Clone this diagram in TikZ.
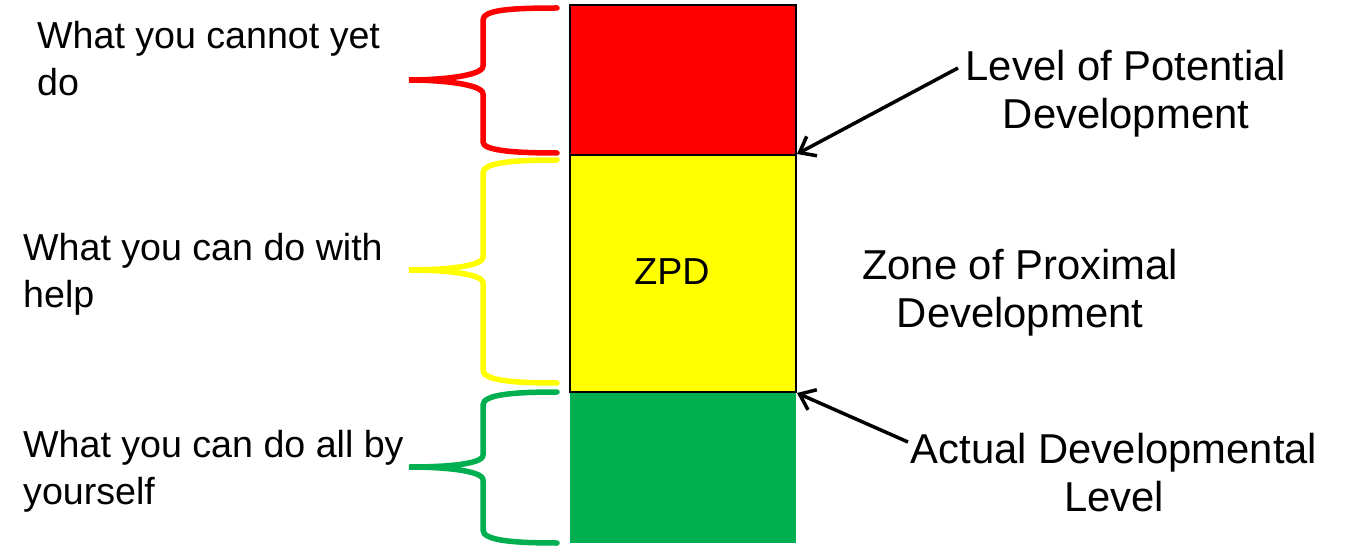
\documentclass[tikz,border=0pt]{standalone}
\usepackage{fontspec}
\setmainfont{Liberation Sans}
\usetikzlibrary{arrows.meta}
\definecolor{zred}{HTML}{FF0000}
\definecolor{zyellow}{HTML}{FFFF00}
\definecolor{zgreen}{HTML}{00B050}
\tikzset{
  lbl/.style={font=\fontsize{37.6}{47}\selectfont, inner sep=0pt, align=left, anchor=west},
  clbl/.style={font=\fontsize{37.6}{48}\selectfont, inner sep=0pt, align=center},
  rlbl/.style={font=\fontsize{41.8}{48}\selectfont, inner sep=0pt, align=center},
  brc/.style={line width=5.5pt, line cap=round},
  pointer/.style={line width=3.5pt, -{Straight Barb[length=14pt,width=22pt,line width=3.5pt]}},
}
\begin{document}
\begin{tikzpicture}[x=1pt,y=-1pt]
\useasboundingbox (0,0) rectangle (1358,548);
% blocks
\fill[zgreen] (570,392) rectangle (796,543);
\draw[line width=2pt, fill=zred] (570,5) rectangle (796,155);
\draw[line width=2pt, fill=zyellow] (570,155) rectangle (796,392);
\coordinate (rbot) at (797,154);
\coordinate (ytopR) at (797,393);
\node[clbl] (zpd) at (672,272) {ZPD};
% braces
\draw[brc, zred] (557,8) .. controls (510,8) and (483,10) .. (483,20) -- (483,66)
  .. controls (483,76) and (440,80) .. (409,80) .. controls (440,80) and (483,84) .. (483,94)
  -- (483,142) .. controls (483,150) and (510,153) .. (557,153);
\draw[brc, zyellow] (557,160) .. controls (510,160) and (483,163) .. (483,173) -- (483,257)
  .. controls (483,267) and (440,270) .. (409,270) .. controls (440,270) and (483,273) .. (483,283)
  -- (483,370) .. controls (483,380) and (510,383) .. (557,383);
\draw[brc, zgreen] (557,392) .. controls (510,392) and (483,395) .. (483,405) -- (483,455)
  .. controls (483,465) and (440,467) .. (409,467) .. controls (440,467) and (483,470) .. (483,480)
  -- (483,530) .. controls (483,540) and (510,543) .. (557,543);
% left labels
\node[lbl] (t1) at (37,59) {What you cannot yet\\do};
\node[lbl] (t2) at (23,274) {What you can do with\\help};
\node[lbl] (t3) at (23,471) {What you can do all by\\yourself};
% right labels
\node[rlbl] (lpd) at (1126,94) {Level of Potential\\Development};
\node[rlbl] (zone) at (1020,293) {Zone of Proximal\\Development};
\node[rlbl] (adl) at (1114,473) {Actual Developmental\\Level};
% arrows
\coordinate (a1) at (958,68);
\coordinate (a2) at (908,442);
\draw[pointer] (a1) -- (rbot);
\draw[pointer] (a2) -- (ytopR);
\end{tikzpicture}
\end{document}
